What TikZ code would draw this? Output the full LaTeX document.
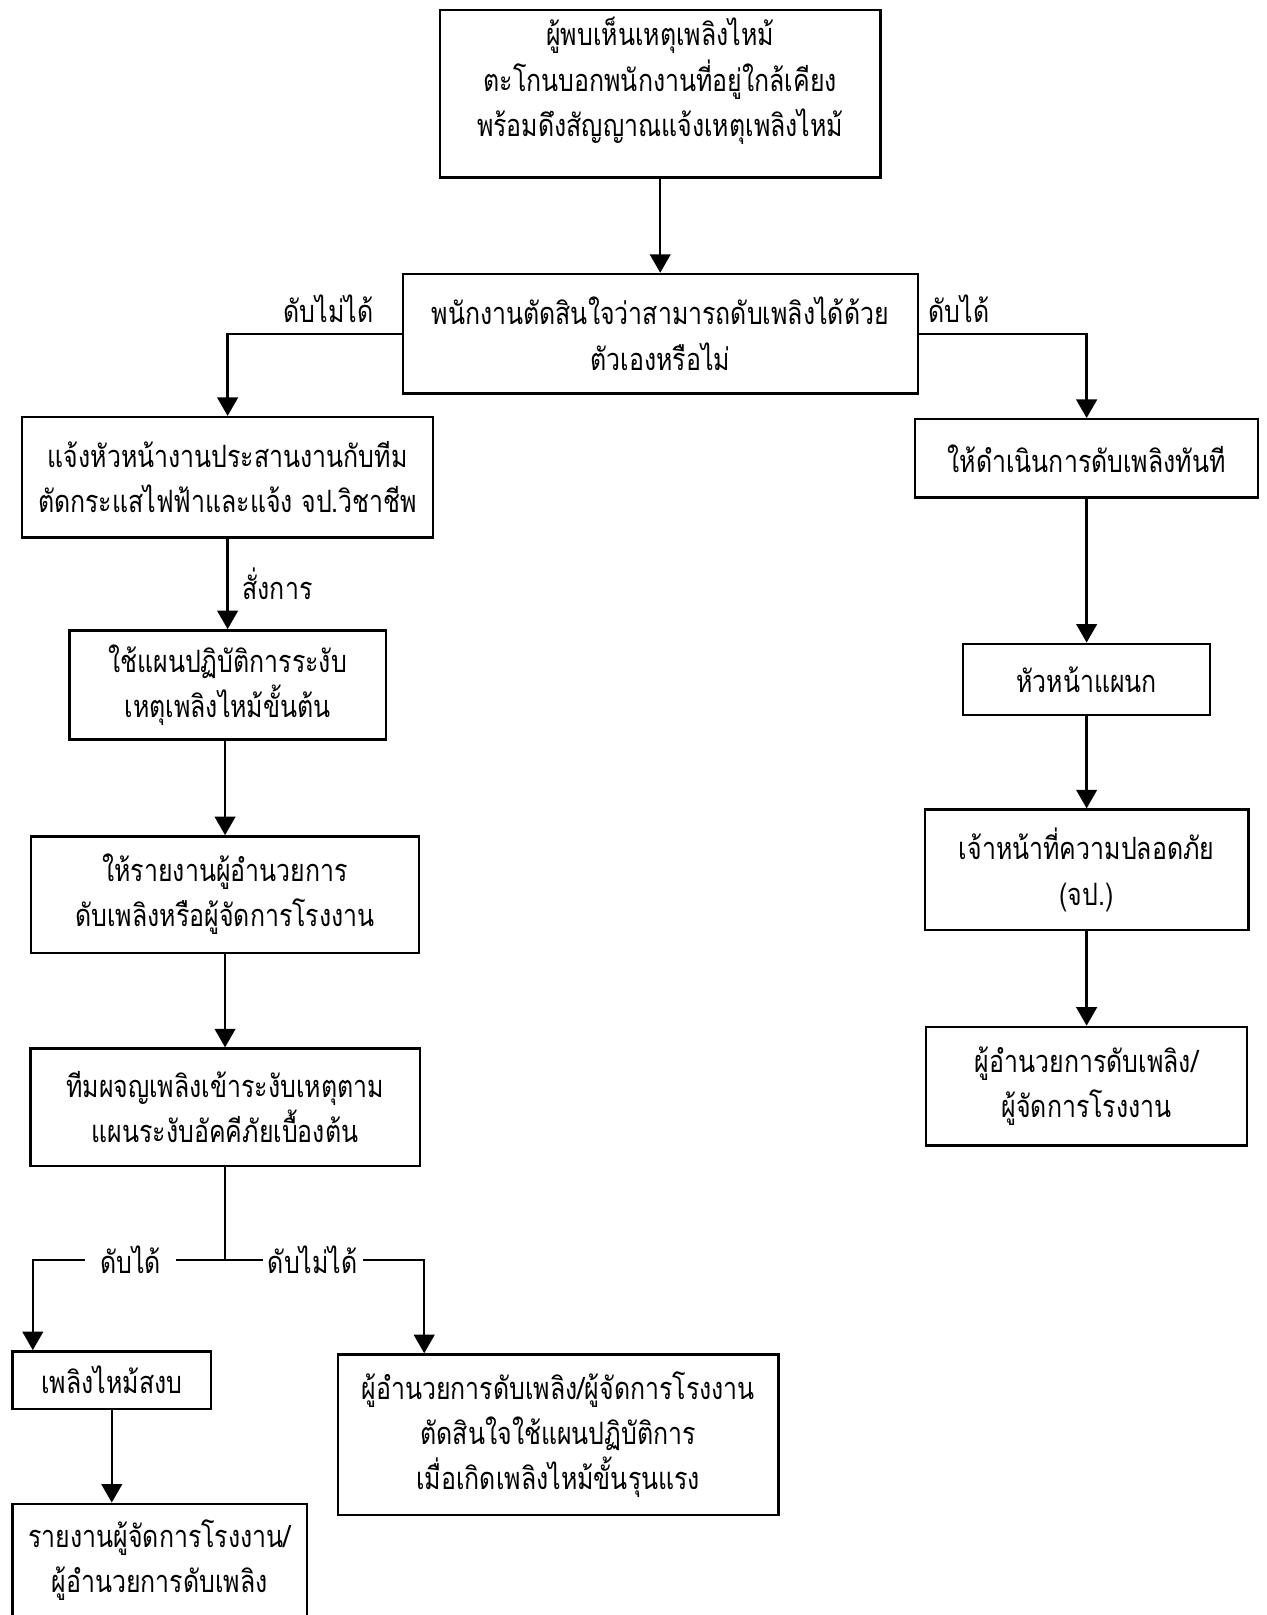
\documentclass[tikz,border=0pt]{standalone}
\usepackage{fontspec}
\newfontfamily\thaifont[Script=Thai, FakeStretch=0.81]{Loma}
\usetikzlibrary{arrows.meta,positioning}

\begin{document}
\begin{tikzpicture}[
    every node/.style={font=\thaifont\fontsize{17}{25}\selectfont},
    box/.style={draw, line width=1.3pt, align=center, inner sep=2pt},
    arrow/.style={line width=1.3pt, -{Triangle[width=0.4cm,length=0.36cm]}},
    line/.style={line width=1.3pt},
  ]
  \useasboundingbox (0,0) rectangle (24.6,-31.36);

  % top
  \node[box, minimum width=8.56cm, minimum height=3.26cm, text depth=0.65cm] (fire) at (12.82,-1.82)
    {ผู้พบเห็นเหตุเพลิงไหม้\\ตะโกนบอกพนักงานที่อยู่ใกล้เคียง\\พร้อมดึงสัญญาณแจ้งเหตุเพลิงไหม้};
  \node[box, minimum width=10cm, minimum height=2.32cm] (decide) at (12.82,-6.48)
    {พนักงานตัดสินใจว่าสามารถดับเพลิงได้ด้วย\\ตัวเองหรือไม่};

  % left column
  \node[box, minimum width=7.98cm, minimum height=2.34cm] (notify) at (4.42,-9.27)
    {แจ้งหัวหน้างานประสานงานกับทีม\\ตัดกระแสไฟฟ้าและแจ้ง จป.วิชาชีพ};
  \node[box, minimum width=6.14cm, minimum height=2.12cm] (plan) at (4.42,-13.30)
    {ใช้แผนปฏิบัติการระงับ\\เหตุเพลิงไหม้ขั้นต้น};
  \node[box, minimum width=7.54cm, minimum height=2.26cm] (report) at (4.37,-17.37)
    {ให้รายงานผู้อำนวยการ\\ดับเพลิงหรือผู้จัดการโรงงาน};
  \node[box, minimum width=7.56cm, minimum height=2.28cm] (team) at (4.37,-21.50)
    {ทีมผจญเพลิงเข้าระงับเหตุตาม\\แผนระงับอัคคีภัยเบื้องต้น};
  \node[box, minimum width=3.86cm, minimum height=1.12cm] (calm) at (2.17,-26.80)
    {เพลิงไหม้สงบ};
  \node[box, minimum width=8.56cm, minimum height=3.12cm] (severe) at (10.84,-27.86)
    {ผู้อำนวยการดับเพลิง/ผู้จัดการโรงงาน\\ตัดสินใจใช้แผนปฏิบัติการ\\เมื่อเกิดเพลิงไหม้ขั้นรุนแรง};
  \node[box, minimum width=5.72cm, minimum height=2.2cm] (summary) at (3.10,-30.30)
    {รายงานผู้จัดการโรงงาน/\\ผู้อำนวยการดับเพลิง};

  % right column
  \node[box, minimum width=6.66cm, minimum height=1.52cm] (fightnow) at (21.10,-8.90)
    {ให้ดำเนินการดับเพลิงทันที};
  \node[box, minimum width=4.8cm, minimum height=1.38cm] (head) at (21.10,-13.19)
    {หัวหน้าแผนก};
  \node[box, minimum width=6.28cm, minimum height=2.34cm] (officer) at (21.10,-16.89)
    {เจ้าหน้าที่ความปลอดภัย\\(จป.)};
  \node[box, minimum width=6.24cm, minimum height=2.3cm] (director) at (21.10,-21.09)
    {ผู้อำนวยการดับเพลิง/\\ผู้จัดการโรงงาน};

  % connectors
  \draw[arrow] (fire) -- (decide);
  \draw[arrow] (decide.west) -| node[pos=0.21, above=2pt] {ดับไม่ได้} (notify.north);
  \draw[arrow] (decide.east) -| node[pos=0.12, above=2pt] {ดับได้} (fightnow.north);
  \draw[arrow] (notify) -- node[right=0.15cm] {สั่งการ} (plan);
  \draw[arrow] (plan.south -| report) -- (report);
  \draw[arrow] (report) -- (team);
  \coordinate[below=1.8cm of team.south] (split);
  \draw[line] (team) -- (split);
  \draw[arrow] (split) -| node[pos=0.246, fill=white, inner xsep=0.3cm] {ดับได้}
    ([xshift=0.42cm]calm.north west);
  \draw[arrow] (split) -| node[pos=0.22, fill=white, inner xsep=0.1cm] {ดับไม่ได้}
    ([xshift=1.70cm]severe.north west);
  \draw[arrow] (calm) -- (calm |- summary.north);
  \draw[arrow] (fightnow) -- (head);
  \draw[arrow] (head) -- (officer);
  \draw[arrow] (officer) -- (director);
\end{tikzpicture}
\end{document}
